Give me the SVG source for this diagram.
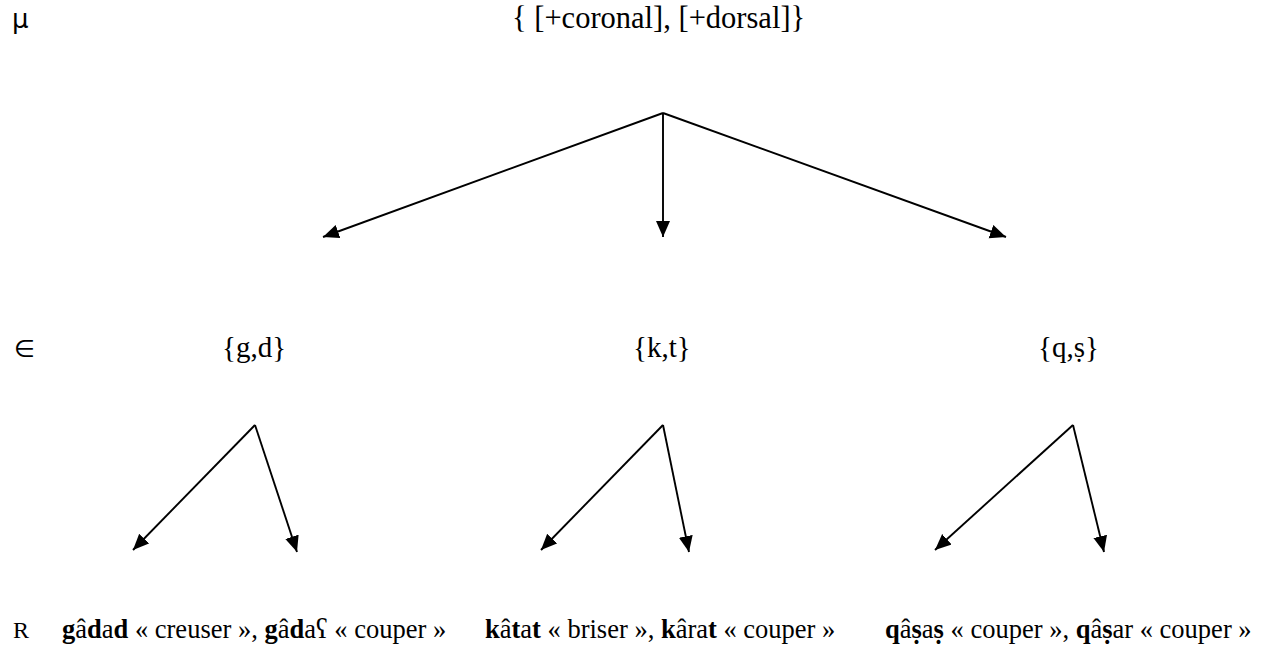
<svg xmlns="http://www.w3.org/2000/svg" width="1269" height="652" viewBox="0 0 1269 652">
<style>
.t{font-family:"Liberation Serif","DejaVu Serif",serif;fill:#000}
.s{font-family:"DejaVu Sans","Liberation Sans",sans-serif;fill:#000}
.b{font-weight:bold}
.c line{stroke:#000;stroke-width:1.9;marker-end:url(#ah)}
</style>
<defs>
<marker id="ah" markerUnits="userSpaceOnUse" markerWidth="17" markerHeight="15" refX="16" refY="7" orient="auto">
<path d="M0,0 L16,7 L0,14 z" fill="#000"/>
</marker>
</defs>
<g id="labels">
<text class="s" x="12" y="28" font-size="26">μ</text>
<text class="s" x="14" y="357" font-size="24">∈</text>
<text class="t" x="13" y="638" font-size="24">R</text>
</g>
<g id="root"><text class="t" x="512" y="28" font-size="30.5">{ [+coronal], [+dorsal]}</text></g>
<g id="gd"><text class="t" x="222" y="357" font-size="29">{g,d}</text></g>
<g id="kt"><text class="t" x="633" y="357" font-size="29">{k,t}</text></g>
<g id="qs"><text class="t" x="1038" y="357" font-size="29">{q,ṣ}</text></g>
<g id="r1"><text class="t" x="62" y="638" font-size="26.5"><tspan class="b">g</tspan>â<tspan class="b">d</tspan>a<tspan class="b">d</tspan> « creuser », <tspan class="b">g</tspan>â<tspan class="b">d</tspan>aʕ « couper »</text></g>
<g id="r2"><text class="t" x="485" y="638" font-size="26.5"><tspan class="b">k</tspan>â<tspan class="b">t</tspan>a<tspan class="b">t</tspan> « briser », <tspan class="b">k</tspan>âra<tspan class="b">t</tspan> « couper »</text></g>
<g id="r3"><text class="t" x="885" y="638" font-size="26.5"><tspan class="b">q</tspan>â<tspan class="b">ṣ</tspan>a<tspan class="b">ṣ</tspan> « couper », <tspan class="b">q</tspan>â<tspan class="b">ṣ</tspan>ar « couper »</text></g>
<g id="connectors" class="c">
<line x1="663" y1="113" x2="323" y2="237"/>
<line x1="663" y1="113" x2="663" y2="237"/>
<line x1="663" y1="113" x2="1006" y2="237"/>
<line x1="255" y1="425" x2="133" y2="550"/>
<line x1="255" y1="425" x2="297" y2="552"/>
<line x1="663" y1="425" x2="541" y2="550"/>
<line x1="663" y1="425" x2="689" y2="552"/>
<line x1="1073" y1="425" x2="935" y2="550"/>
<line x1="1073" y1="425" x2="1104" y2="552"/>
</g>
</svg>
